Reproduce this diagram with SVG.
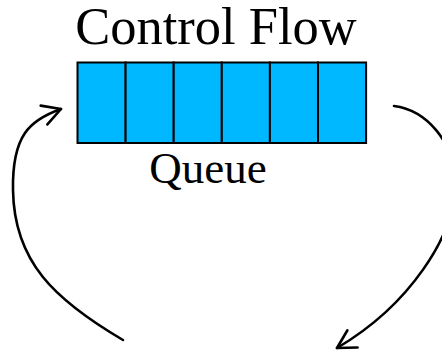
<svg xmlns="http://www.w3.org/2000/svg" width="442" height="354" viewBox="0 0 442 354">
  <style>
    .label { font-family: "Liberation Serif", "Times New Roman", serif; fill: #000; text-anchor: middle; }
    .cell { fill: #00B8FF; stroke: #000; stroke-width: 2; }
    .flow { fill: none; stroke: #000; stroke-width: 2.6; stroke-linecap: round; }
  </style>
  <defs>
    <marker id="openHead" markerUnits="userSpaceOnUse" markerWidth="40" markerHeight="40" refX="0" refY="0" orient="auto" overflow="visible">
      <path d="M-18,-10 L0,0 L-18,10" fill="none" stroke="#000" stroke-width="2.6" stroke-linecap="round" stroke-linejoin="round"/>
    </marker>
  </defs>

  <g id="title">
    <text class="label" x="216" y="44" font-size="52.5">Control Flow</text>
  </g>

  <g id="queue">
    <rect class="cell" x="77.5" y="62.5" width="48.1" height="80.5"/>
    <rect class="cell" x="125.6" y="62.5" width="48.1" height="80.5"/>
    <rect class="cell" x="173.7" y="62.5" width="48.1" height="80.5"/>
    <rect class="cell" x="221.8" y="62.5" width="48.1" height="80.5"/>
    <rect class="cell" x="269.9" y="62.5" width="48.1" height="80.5"/>
    <rect class="cell" x="318" y="62.5" width="48.1" height="80.5"/>
    <text class="label" x="208" y="183" font-size="45">Queue</text>
  </g>

  <g id="connectors">
    <path class="flow" d="M123,340 C55,300 14,262 13,190 C12,135 30,120 61,109" marker-end="url(#openHead)"/>
    <path class="flow" d="M394,106 C425,110 455,140 455,185 C455,235 410,305 337,348" marker-end="url(#openHead)"/>
  </g>
</svg>
